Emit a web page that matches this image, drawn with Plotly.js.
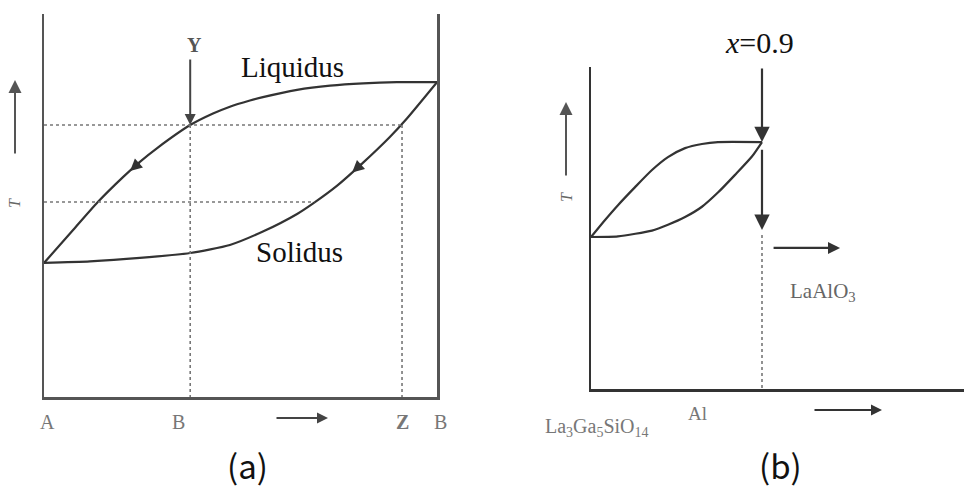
<!DOCTYPE html>
<html>
<head>
<meta charset="utf-8">
<script src="https://cdn.plot.ly/plotly-3.0.1.min.js"></script>
<style>
  html, body { margin: 0; padding: 0; background: #fff; }
  #chart { width: 964px; height: 488px; }
</style>
</head>
<body>
<div id="chart"></div>
<script>
// ---- (a) binary system A–B: composition (0 = A, 1 = B) vs temperature ----
const liquidusAx = [0, 0.074, 0.137, 0.201, 0.244, 0.288, 0.372, 0.430, 0.473, 0.524, 0.557, 0.644, 0.728, 0.812, 0.898, 1];
const liquidusAT = [0.350, 0.436, 0.509, 0.574, 0.614, 0.650, 0.710, 0.740, 0.758, 0.774, 0.783, 0.802, 0.813, 0.819, 0.822, 0.822];
const solidusAx  = [0, 0.117, 0.244, 0.372, 0.473, 0.557, 0.644, 0.684, 0.746, 0.812, 0.880, 0.924, 1];
const solidusAT  = [0.350, 0.354, 0.363, 0.376, 0.397, 0.432, 0.478, 0.505, 0.552, 0.612, 0.679, 0.728, 0.822];
const compY = 0.372;      // starting melt composition (B)
const compZ = 0.911;      // first solid composition (Z)
const tStart = 0.710;     // liquidus temperature at Y
const tLater = 0.509;     // a lower tie-line temperature
const compLater = 0.688;  // solid composition at that temperature
const tYTail = 0.885;
const axisLabelsA = ['A', 'B', 'Z', 'B'];
const axisLabelPosA = [0, compY, compZ, 1];
const axisLabelShiftA = [3, -12, 0, 3];
const flowArrowsA = [
  { x: 0.219, T: 0.590 },  // along the liquidus
  { x: 0.784, T: 0.586 }   // along the solidus
];

// ---- (b) La3Ga5SiO14 – LaAlO3 section ----
const upperBx = [0, 0.074, 0.142, 0.232, 0.321, 0.405, 0.495, 0.584, 0.668, 0.9];
const upperBT = [0.472, 0.525, 0.571, 0.627, 0.680, 0.720, 0.748, 0.761, 0.767, 0.767];
const lowerBx = [0, 0.142, 0.321, 0.405, 0.495, 0.584, 0.668, 0.758, 0.847, 0.9];
const lowerBT = [0.472, 0.474, 0.492, 0.510, 0.534, 0.566, 0.610, 0.665, 0.722, 0.767];
const xCut = 0.9;
const tCutTop = 1.0, tCutMelt = 0.767, tCutDrop = 0.748, tCutEnd = 0.494, tDotStart = 0.478;
const tPushArrow = 0.438, pushFrom = 0.953, pushTo = 1.311;

const curveColor = '#333';
const dotColor = '#777';
const serif = '"Liberation Serif", "Times New Roman", serif';
const captionFont = '"Noto Sans CJK KR", "Noto Sans", sans-serif';

const W = 964, H = 488;
const px = v => v / W;          // pixel -> paper x
const py = v => 1 - v / H;      // pixel -> paper y

function curve(x, y, xa, ya) {
  return { x, y, xaxis: xa, yaxis: ya, mode: 'lines', hoverinfo: 'skip',
           line: { color: curveColor, width: 2.2, shape: 'spline', smoothing: 0.6 } };
}
function dotted(x, y, xa, ya) {
  return { x, y, xaxis: xa, yaxis: ya, mode: 'lines', hoverinfo: 'skip',
           line: { color: dotColor, width: 1.6, dash: 'dot' } };
}

const traces = [
  curve(liquidusAx, liquidusAT, 'x', 'y'),
  curve(solidusAx, solidusAT, 'x', 'y'),
  dotted([0, compZ], [tStart, tStart], 'x', 'y'),
  dotted([0, compLater], [tLater, tLater], 'x', 'y'),
  dotted([compY, compY], [tStart, 0], 'x', 'y'),
  dotted([compZ, compZ], [tStart, 0], 'x', 'y'),
  curve(upperBx, upperBT, 'x2', 'y2'),
  curve(lowerBx, lowerBT, 'x2', 'y2'),
  dotted([xCut, xCut], [tDotStart, 0], 'x2', 'y2')
];

const annotations = [];
function label(opts) {
  annotations.push(Object.assign({ showarrow: false, xanchor: 'center', yanchor: 'middle' }, opts));
}
function arrow(opts) {
  annotations.push(Object.assign({ text: '', showarrow: true, arrowhead: 2, arrowsize: 1.1,
    arrowwidth: 2, arrowcolor: curveColor }, opts));
}

// vertical arrow Y and the flow arrowheads in (a)
arrow({ xref: 'x', yref: 'y', axref: 'x', ayref: 'y', x: compY, y: tStart, ax: compY, ay: tYTail, arrowcolor: '#444' });
flowArrowsA.forEach(a => arrow({ xref: 'x', yref: 'y', x: a.x, y: a.T, ax: 11, ay: -10, arrowsize: 1.2 }));

label({ xref: 'x', yref: 'paper', x: compY, y: py(45), text: '<b>Y</b>', xshift: 4,
  font: { family: serif, size: 20, color: '#555' } });
label({ xref: 'paper', yref: 'paper', x: px(292), y: py(67), text: 'Liquidus',
  font: { family: serif, size: 29, color: '#111' } });
label({ xref: 'paper', yref: 'paper', x: px(299), y: py(252), text: 'Solidus',
  font: { family: serif, size: 29, color: '#111' } });

// composition labels under (a)
axisLabelsA.forEach((t, i) => label({ xref: 'x', yref: 'paper', x: axisLabelPosA[i], y: py(422),
  xshift: axisLabelShiftA[i], text: (t === 'Z' ? '<b>Z</b>' : t),
  font: { family: serif, size: 20, color: '#777' } }));
arrow({ xref: 'paper', yref: 'paper', x: px(328), y: py(418), ax: -53, ay: 0, arrowcolor: '#444' });

// temperature arrows
[[15, 80, 203], [566, 102, 197]].forEach(([x, tip, lab]) => {
  arrow({ xref: 'paper', yref: 'paper', x: px(x), y: py(tip), ax: 0, ay: 75, arrowsize: 1.3, arrowcolor: '#555' });
  label({ xref: 'paper', yref: 'paper', x: px(x), y: py(lab), text: '<i>T</i>', textangle: -90,
    font: { family: serif, size: 16, color: '#666' } });
});

// (b) arrows at x = 0.9
arrow({ xref: 'x2', yref: 'y2', axref: 'x2', ayref: 'y2', x: xCut, y: tCutMelt, ax: xCut, ay: tCutTop,
  arrowsize: 1.4, arrowwidth: 2.2 });
arrow({ xref: 'x2', yref: 'y2', axref: 'x2', ayref: 'y2', x: xCut, y: tCutEnd, ax: xCut, ay: tCutDrop,
  arrowsize: 1.4, arrowwidth: 2.2 });
arrow({ xref: 'x2', yref: 'y2', axref: 'x2', ayref: 'y2', x: pushTo, y: tPushArrow, ax: pushFrom, ay: tPushArrow,
  arrowwidth: 2.2 });
label({ xref: 'x2', yref: 'paper', x: xCut, y: py(42), text: '<i>x</i>=0.9', xshift: -3,
  font: { family: serif, size: 30, color: '#111' } });
label({ xref: 'paper', yref: 'paper', x: px(823), y: py(292), text: 'LaAlO<sub>3</sub>',
  font: { family: serif, size: 21, color: '#666' } });
label({ xref: 'paper', yref: 'paper', x: px(597), y: py(427), text: 'La<sub>3</sub>Ga<sub>5</sub>SiO<sub>14</sub>',
  font: { family: serif, size: 20, color: '#777' } });
label({ xref: 'paper', yref: 'paper', x: px(697), y: py(413), text: 'Al',
  font: { family: serif, size: 19, color: '#777' } });
arrow({ xref: 'paper', yref: 'paper', x: px(882), y: py(410), ax: -69, ay: 0 });

// panel captions
label({ xref: 'paper', yref: 'paper', x: px(248), y: py(465), text: '(a)',
  font: { family: captionFont, size: 33, color: '#111' } });
label({ xref: 'paper', yref: 'paper', x: px(780), y: py(465), text: '(b)',
  font: { family: captionFont, size: 33, color: '#111' } });

const hidden = { showgrid: false, zeroline: false, showticklabels: false, ticks: '', fixedrange: true };

const layout = {
  width: W, height: H,
  margin: { l: 0, r: 0, t: 0, b: 0 },
  paper_bgcolor: '#fff', plot_bgcolor: 'rgba(0,0,0,0)',
  showlegend: false,
  xaxis:  Object.assign({}, hidden, { domain: [px(44), px(437)], range: [0, 1], anchor: 'y',
           showline: true, linecolor: '#555', linewidth: 2.5 }),
  yaxis:  Object.assign({}, hidden, { domain: [py(397), py(14)], range: [0, 1], anchor: 'x',
           showline: true, mirror: true, linecolor: '#555', linewidth: 2.5 }),
  xaxis2: Object.assign({}, hidden, { domain: [px(591), 1], range: [0, (964 - 591) / 190], anchor: 'y2',
           showline: true, linecolor: '#333', linewidth: 2.5 }),
  yaxis2: Object.assign({}, hidden, { domain: [py(389), py(67)], range: [0, 1], anchor: 'x2',
           showline: true, linecolor: '#333', linewidth: 2.5 }),
  annotations
};

Plotly.newPlot('chart', traces, layout, { displayModeBar: false, staticPlot: true });
</script>
</body>
</html>
